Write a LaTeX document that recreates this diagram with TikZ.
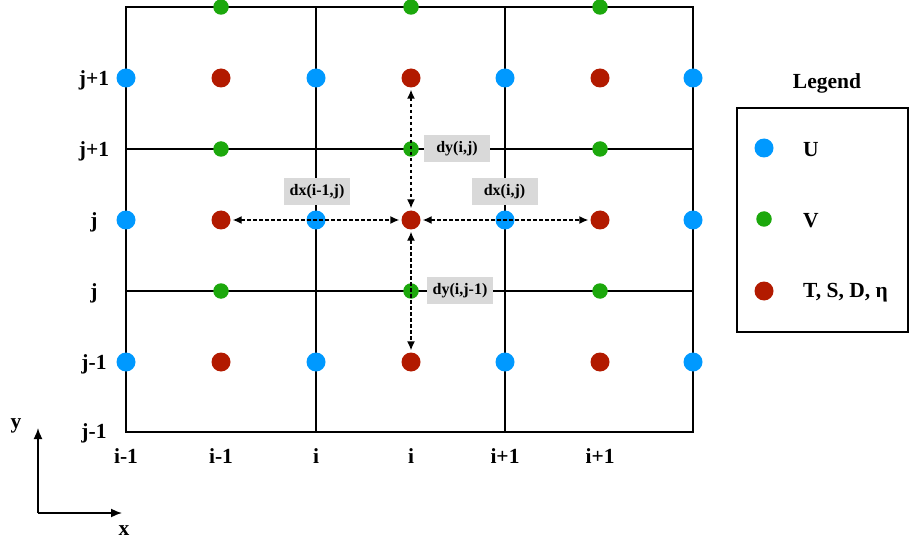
\documentclass[tikz,border=0pt]{standalone}
\usepackage{fontspec}
\setmainfont{Liberation Serif}
\usetikzlibrary{arrows.meta}
\definecolor{ublue}{RGB}{0,153,255}
\definecolor{vgreen}{RGB}{28,168,12}
\definecolor{tred}{RGB}{178,26,0}
\definecolor{boxgray}{RGB}{217,217,217}
\tikzset{
  gridline/.style={line width=1.7pt, black},
  udot/.style={circle, fill=ublue, inner sep=0pt, minimum size=19pt},
  vdot/.style={circle, fill=vgreen, inner sep=0pt, minimum size=15.5pt},
  tdot/.style={circle, fill=tred, inner sep=0pt, minimum size=19pt},
  lbl/.style={font=\bfseries\fontsize{21.5}{25}\selectfont, inner sep=0pt},
  dimlbl/.style={font=\bfseries\fontsize{16}{19}\selectfont, fill=boxgray, minimum width=66pt, minimum height=27pt, inner sep=0pt},
  dimarrow/.style={dash pattern=on 3.5pt off 2.5pt, line width=1.4pt, {Latex[length=9pt,width=8pt]}-{Latex[length=9pt,width=8pt]}, shorten >=2pt, shorten <=2pt},
  axis/.style={line width=1.6pt, -{Latex[length=11pt,width=9pt]}}
}
\begin{document}
\begin{tikzpicture}[x=1pt,y=-1pt]
\useasboundingbox (0,0) rectangle (909,545);
% grid
\draw[gridline] (126,7) rectangle (693,432);
\draw[gridline] (316,7) -- (316,432);
\draw[gridline] (505,7) -- (505,432);
\draw[gridline] (126,149) -- (693,149);
\draw[gridline] (126,291) -- (693,291);
% U dots
\foreach \x/\a in {126/1,316/2,505/3,693/4}{
  \foreach \y/\b in {78/1,220/2,362/3}{
    \node[udot] (u\a\b) at (\x,\y) {};
  }
}
% T dots
\foreach \x/\a in {221/1,411/2,600/3}{
  \foreach \y/\b in {78/1,220/2,362/3}{
    \node[tdot] (t\a\b) at (\x,\y) {};
  }
}
% V dots
\foreach \x/\a in {221/1,411/2,600/3}{
  \foreach \y/\b in {7/0,149/1,291/2}{
    \node[vdot] (v\a\b) at (\x,\y) {};
  }
}
% dimension arrows
\draw[dimarrow] (t12) -- (t22);
\draw[dimarrow] (t22) -- (t32);
\draw[dimarrow] (t21) -- (t22);
\draw[dimarrow] (t22) -- (t23);
% dimension labels
\node[dimlbl] (dyij) at (457,148.5) {dy(i,j)};
\node[dimlbl] (dxim) at (317,191.5) {dx(i-1,j)};
\node[dimlbl] (dxij) at (504.5,191.5) {dx(i,j)};
\node[dimlbl] (dyijm) at (460,290.5) {dy(i,j-1)};
% left labels
\node[lbl] (l1) at (94,80) {j+1};
\node[lbl] (l2) at (94,151) {j+1};
\node[lbl] (l3) at (94,222) {j};
\node[lbl] (l4) at (94,293) {j};
\node[lbl] (l5) at (94,364) {j-1};
\node[lbl] (l6) at (94,433) {j-1};
% bottom labels
\node[lbl] (b1) at (126,456) {i-1};
\node[lbl] (b2) at (221,456) {i-1};
\node[lbl] (b3) at (316,456) {i};
\node[lbl] (b4) at (411,456) {i};
\node[lbl] (b5) at (505,456) {i+1};
\node[lbl] (b6) at (600,456) {i+1};
% legend
\node[lbl] (legtitle) at (827,83) {Legend};
\draw[line width=1.7pt] (737,108) rectangle (908,332);
\node[udot] (lu) at (764,148) {};
\node[vdot] (lv) at (764,219) {};
\node[tdot] (lt) at (764,291) {};
\node[lbl, anchor=west] (lut) at (803,150) {U};
\node[lbl, anchor=west] (lvt) at (803,221) {V};
\node[lbl, anchor=west] (ltt) at (803,293) {T, S, D, η};
% axes
\coordinate (o) at (38,513);
\coordinate (ytip) at (38,428);
\coordinate (xtip) at (122,513);
\draw[axis] (o) -- (ytip);
\draw[axis] (o) -- (xtip);
\node[lbl] (ylab) at (16,426) {y};
\node[lbl] (xlab) at (124,531) {x};
\end{tikzpicture}
\end{document}
